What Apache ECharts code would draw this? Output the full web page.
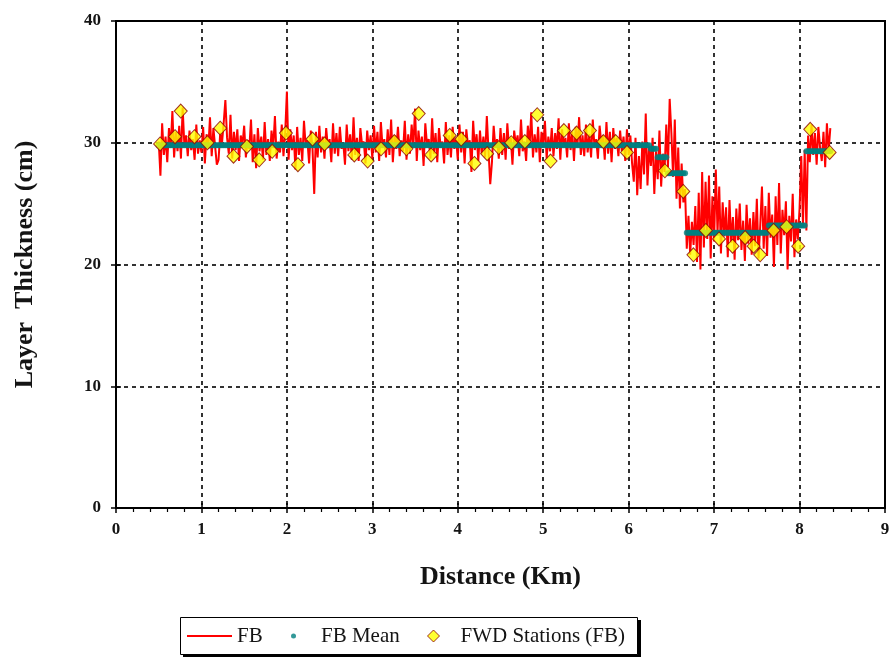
<!DOCTYPE html>
<html>
<head>
<meta charset="utf-8">
<title>Layer Thickness (FB)</title>
<script src="https://cdn.jsdelivr.net/npm/echarts@6/dist/echarts.min.js"></script>
<style>
  html, body { margin: 0; padding: 0; background: #ffffff; }
  #chart { width: 894px; height: 658px; }
</style>
</head>
<body>
<div id="chart"></div>
<script>
// FB thickness readings (cm), one every 20 m starting at 0.5 km
const fbStartKm = 0.5;
const fbStepKm = 0.02;
const fbThickness = [
  // 0.50 - 0.98
  30.1, 27.3, 31.6, 29.0, 30.5, 28.4, 31.2, 29.6, 32.6, 28.8, 30.9, 29.3, 31.4, 28.7, 32.9, 29.8, 30.6, 28.9, 31.0, 29.4, 30.3, 28.6, 31.5, 29.1, 30.2,
  // 1.00 - 1.48
  29.2, 31.3, 28.3, 30.7, 29.5, 32.1, 28.9, 31.2, 29.7, 28.2, 28.6, 30.8, 29.9, 31.6, 33.5, 30.4, 29.1, 32.3, 28.7, 30.9, 29.4, 31.1, 28.5, 30.6, 29.8,
  // 1.50 - 1.98
  31.4, 28.8, 30.2, 29.5, 31.9, 28.4, 30.7, 27.9, 31.2, 29.3, 30.5, 28.6, 31.7, 29.0, 30.3, 28.5, 31.0, 29.6, 32.2, 28.7, 30.1, 29.2, 31.5, 28.9, 30.8,
  // 2.00 - 2.48
  34.2, 28.6, 31.1, 29.4, 30.6, 27.8, 31.3, 29.0, 30.4, 28.5, 31.8, 29.7, 30.2, 28.3, 31.0, 29.5, 25.8, 30.9, 28.8, 31.4, 29.2, 30.5, 28.7, 31.2, 29.6,
  // 2.50 - 2.98
  30.3, 28.4, 31.6, 29.1, 30.8, 28.9, 31.3, 29.5, 30.0, 28.2, 31.5, 29.3, 30.7, 28.6, 32.1, 29.0, 30.4, 28.5, 31.2, 29.8, 30.1, 28.3, 31.0, 29.4, 30.6,
  // 3.00 - 3.48
  28.7, 31.4, 29.2, 30.9, 28.5, 31.7, 29.6, 30.3, 28.8, 31.1, 29.0, 31.9, 28.4, 30.6, 29.5, 31.3, 28.9, 30.2, 29.3, 31.8, 28.6, 30.7, 29.1, 31.5, 29.7,
  // 3.50 - 3.98
  32.8, 28.5, 31.0, 29.4, 30.5, 28.1, 31.6, 29.8, 30.3, 28.7, 32.0, 29.1, 30.8, 28.4, 31.2, 29.6, 30.1, 28.3, 31.7, 29.0, 30.6, 28.8, 31.3, 29.5, 30.4,
  // 4.00 - 4.48
  28.6, 31.5, 29.2, 30.9, 28.3, 31.1, 29.7, 30.2, 27.6, 31.8, 29.4, 30.7, 28.5, 31.0, 29.1, 30.5, 28.8, 32.2, 29.3, 26.6, 28.4, 31.4, 29.6, 30.3, 28.7,
  // 4.50 - 4.98
  31.2, 29.0, 30.8, 28.6, 31.6, 29.5, 30.4, 28.2, 31.0, 29.8, 30.6, 28.9, 31.9, 29.3, 30.1, 28.5, 31.4, 29.7, 32.5, 28.8, 30.7, 29.2, 31.3, 28.4, 30.9,
  // 5.00 - 5.48
  29.6, 31.8, 28.7, 30.5, 29.3, 31.2, 28.9, 30.8, 29.5, 32.0, 28.6, 31.1, 29.8, 30.4, 28.8, 31.6, 29.4, 30.9, 28.5, 31.3, 29.7, 32.1, 29.0, 30.6, 28.9,
  // 5.50 - 5.98
  31.5, 29.2, 30.7, 28.8, 31.9, 29.6, 30.3, 28.7, 31.4, 29.9, 30.6, 28.6, 31.7, 29.1, 30.9, 28.4, 31.2, 29.5, 30.4, 28.9, 31.0, 29.3, 30.5, 28.5, 31.1,
  // 6.00 - 6.48
  29.0, 30.6, 28.3, 26.8, 30.4, 25.7, 28.9, 26.2, 30.1, 27.4, 32.4, 26.5, 29.7, 28.1, 30.4, 25.8, 29.3, 27.0, 31.0, 26.4, 29.1, 27.6, 31.5, 28.0, 33.6,
  // 6.50 - 6.98
  30.8, 27.2, 31.9, 25.4, 29.6, 24.6, 28.3, 25.1, 26.2, 21.3, 24.0, 20.8, 23.5, 21.6, 24.8, 20.2, 25.9, 19.6, 27.6, 21.4, 26.8, 22.1, 27.3, 20.5, 25.6,
  // 7.00 - 7.48
  21.9, 27.8, 22.6, 26.4, 20.9, 25.1, 22.3, 24.7, 20.6, 25.3, 21.8, 23.9, 20.4, 24.6, 22.0, 25.0, 21.2, 23.6, 20.3, 24.9, 21.7, 23.8, 20.8, 24.3, 21.5,
  // 7.50 - 7.98
  25.4, 20.5, 23.2, 26.4, 21.3, 24.8, 20.7, 25.9, 22.2, 24.1, 19.8, 25.6, 21.6, 26.7, 20.9, 24.5, 22.4, 25.2, 19.6, 24.0, 21.9, 25.8, 20.6, 23.7, 22.1,
  // 8.00 - 8.36
  24.6, 28.9, 23.2, 29.4, 22.8, 30.6, 28.4, 31.5, 29.0, 30.8, 28.2, 31.3, 29.6, 28.5, 30.9, 28.0, 31.6, 29.3, 31.2
];

// Homogeneous sections and their mean thickness (cm)
const meanFromKm    = [0.50, 6.26, 6.34, 6.46, 6.68, 7.64, 8.08];
const meanToKm      = [6.24, 6.32, 6.44, 6.66, 7.62, 8.06, 8.36];
const meanThickness = [29.8, 29.5, 28.8, 27.5, 22.6, 23.2, 29.3];

// FWD test stations on the FB layer
const fwdKm = [0.516, 0.691, 0.758, 0.918, 1.070, 1.219, 1.375, 1.532, 1.676, 1.828,
               1.989, 2.129, 2.300, 2.441, 2.789, 2.945, 3.102, 3.258, 3.399, 3.543,
               3.688, 3.906, 4.040, 4.195, 4.344, 4.480, 4.626, 4.785, 4.930, 5.086,
               5.242, 5.391, 5.547, 5.704, 5.848, 5.980, 6.424, 6.639, 6.758, 6.903,
               7.058, 7.216, 7.363, 7.462, 7.539, 7.696, 7.848, 7.984, 8.125, 8.352];
const fwdThickness = [29.9, 30.5, 32.6, 30.5, 30.0, 31.2, 28.9, 29.7, 28.6, 29.3,
                      30.8, 28.2, 30.3, 29.9, 29.0, 28.5, 29.5, 30.1, 29.5, 32.4,
                      29.0, 30.6, 30.3, 28.3, 29.1, 29.6, 30.0, 30.1, 32.3, 28.5,
                      31.0, 30.8, 31.0, 30.1, 30.1, 29.2, 27.7, 26.0, 20.8, 22.8,
                      22.1, 21.5, 22.2, 21.5, 20.8, 22.8, 23.1, 21.5, 31.1, 29.2];

// Axis ticks
const xTickKm = [0, 1, 2, 3, 4, 5, 6, 7, 8, 9];
const yTickCm = [0, 10, 20, 30, 40];

// ---- build series data ----
const fbKm = fbThickness.map((_, i) => +(fbStartKm + i * fbStepKm).toFixed(2));
const fbData = fbKm.map((km, i) => [km, fbThickness[i]]);

const meanData = [];
fbKm.forEach(km => {
  for (let s = 0; s < meanFromKm.length; s++) {
    if (km >= meanFromKm[s] - 1e-9 && km <= meanToKm[s] + 1e-9) {
      meanData.push([km, meanThickness[s]]);
      break;
    }
  }
});

const fwdData = fwdKm.map((km, i) => [km, fwdThickness[i]]);

const SERIF = '"Liberation Serif", "Times New Roman", serif';
const INK = '#141414';

const gridBox = { left: 116, right: 9, top: 21, bottom: 150 };

const chart = echarts.init(document.getElementById('chart'), null, { renderer: 'canvas' });

function legendText(gapLeft) {
  return { fontFamily: SERIF, fontSize: 21, color: INK, lineHeight: 24, padding: [0, 0, 0, gapLeft] };
}

const legendCommon = {
  orient: 'horizontal',
  top: 624,
  padding: 0,
  selectedMode: false,
  itemGap: 0
};

chart.setOption({
  animation: false,
  backgroundColor: '#ffffff',
  grid: Object.assign({
    show: true,
    borderColor: '#000',
    borderWidth: 2,
    backgroundColor: 'transparent',
    containLabel: false,
    outerBoundsMode: 'none'
  }, gridBox),
  xAxis: [
    {
      type: 'value',
      position: 'bottom',
      min: xTickKm[0],
      max: xTickKm[xTickKm.length - 1],
      interval: 1,
      name: 'Distance (Km)',
      nameLocation: 'middle',
      nameGap: 56,
      nameTextStyle: { fontFamily: SERIF, fontSize: 26, fontWeight: 'bold', color: INK },
      axisLine: { show: true, onZero: false, lineStyle: { color: '#000', width: 2 } },
      axisTick: { show: true, inside: false, length: 5, lineStyle: { color: '#000', width: 1.5 } },
      minorTick: { show: true, splitNumber: 5, length: 4, lineStyle: { color: '#000', width: 1.2 } },
      axisLabel: { margin: 13, fontFamily: SERIF, fontSize: 17, fontWeight: 'bold', color: INK },
      splitLine: {
        show: true, showMinLine: false, showMaxLine: false,
        lineStyle: { color: '#000', width: 1.6, type: [4, 4] }
      },
      minorSplitLine: { show: false }
    },
    {
      // inner half of the major ticks, so they cross the axis line
      type: 'value',
      position: 'bottom',
      min: xTickKm[0],
      max: xTickKm[xTickKm.length - 1],
      interval: 1,
      axisLine: { show: false, onZero: false },
      axisTick: { show: true, inside: true, length: 5, lineStyle: { color: '#000', width: 1.5 } },
      axisLabel: { show: false },
      splitLine: { show: false }
    }
  ],
  yAxis: [
    {
      type: 'value',
      position: 'left',
      min: yTickCm[0],
      max: yTickCm[yTickCm.length - 1],
      interval: 10,
      name: 'Layer  Thickness (cm)',
      nameLocation: 'middle',
      nameGap: 78,
      nameTextStyle: { fontFamily: SERIF, fontSize: 26, fontWeight: 'bold', color: INK },
      axisLine: { show: true, onZero: false, lineStyle: { color: '#000', width: 2 } },
      axisTick: { show: true, inside: false, length: 5, lineStyle: { color: '#000', width: 1.5 } },
      axisLabel: { margin: 15, fontFamily: SERIF, fontSize: 17, fontWeight: 'bold', color: INK },
      splitLine: {
        show: true, showMinLine: false, showMaxLine: false,
        lineStyle: { color: '#000', width: 1.6, type: [4, 4] }
      }
    },
    {
      type: 'value',
      position: 'left',
      min: yTickCm[0],
      max: yTickCm[yTickCm.length - 1],
      interval: 10,
      axisLine: { show: false, onZero: false },
      axisTick: { show: true, inside: true, length: 5, lineStyle: { color: '#000', width: 1.5 } },
      axisLabel: { show: false },
      splitLine: { show: false }
    }
  ],
  legend: [
    Object.assign({}, legendCommon, {
      left: 187,
      data: [{ name: 'FB', icon: 'rect' }],
      itemWidth: 45,
      itemHeight: 2,
      itemStyle: { color: '#ff0000' },
      textStyle: legendText(0)
    }),
    Object.assign({}, legendCommon, {
      left: 291,
      data: [{ name: 'FB Mean', icon: 'circle' }],
      itemWidth: 5,
      itemHeight: 5,
      textStyle: legendText(20)
    }),
    Object.assign({}, legendCommon, {
      left: 427,
      data: [{ name: 'FWD Stations (FB)', icon: 'diamond' }],
      itemWidth: 12,
      itemHeight: 12,
      itemStyle: { borderColor: '#8b0000', borderWidth: 1 },
      textStyle: legendText(16)
    })
  ],
  graphic: [
    {
      type: 'rect', z: 0,
      shape: { x: 183, y: 620, width: 458, height: 37 },
      style: { fill: '#000' }
    },
    {
      type: 'rect', z: 1,
      shape: { x: 180.5, y: 617.5, width: 457, height: 37 },
      style: { fill: '#fff', stroke: '#000', lineWidth: 1 }
    }
  ],
  series: [
    {
      name: 'FB',
      type: 'line',
      data: fbData,
      xAxisIndex: 0,
      yAxisIndex: 0,
      symbol: 'none',
      showSymbol: false,
      lineStyle: { color: '#ff0000', width: 2 },
      itemStyle: { color: '#ff0000' },
      z: 2
    },
    {
      name: 'FB Mean',
      type: 'scatter',
      data: meanData,
      xAxisIndex: 0,
      yAxisIndex: 0,
      symbol: 'circle',
      symbolSize: 6,
      itemStyle: { color: '#008080' },
      z: 3
    },
    {
      name: 'FWD Stations (FB)',
      type: 'scatter',
      data: fwdData,
      xAxisIndex: 0,
      yAxisIndex: 0,
      symbol: 'diamond',
      symbolSize: [13, 14],
      itemStyle: { color: '#ffff00', borderColor: '#8b0000', borderWidth: 1 },
      z: 4
    }
  ]
});
</script>
</body>
</html>
